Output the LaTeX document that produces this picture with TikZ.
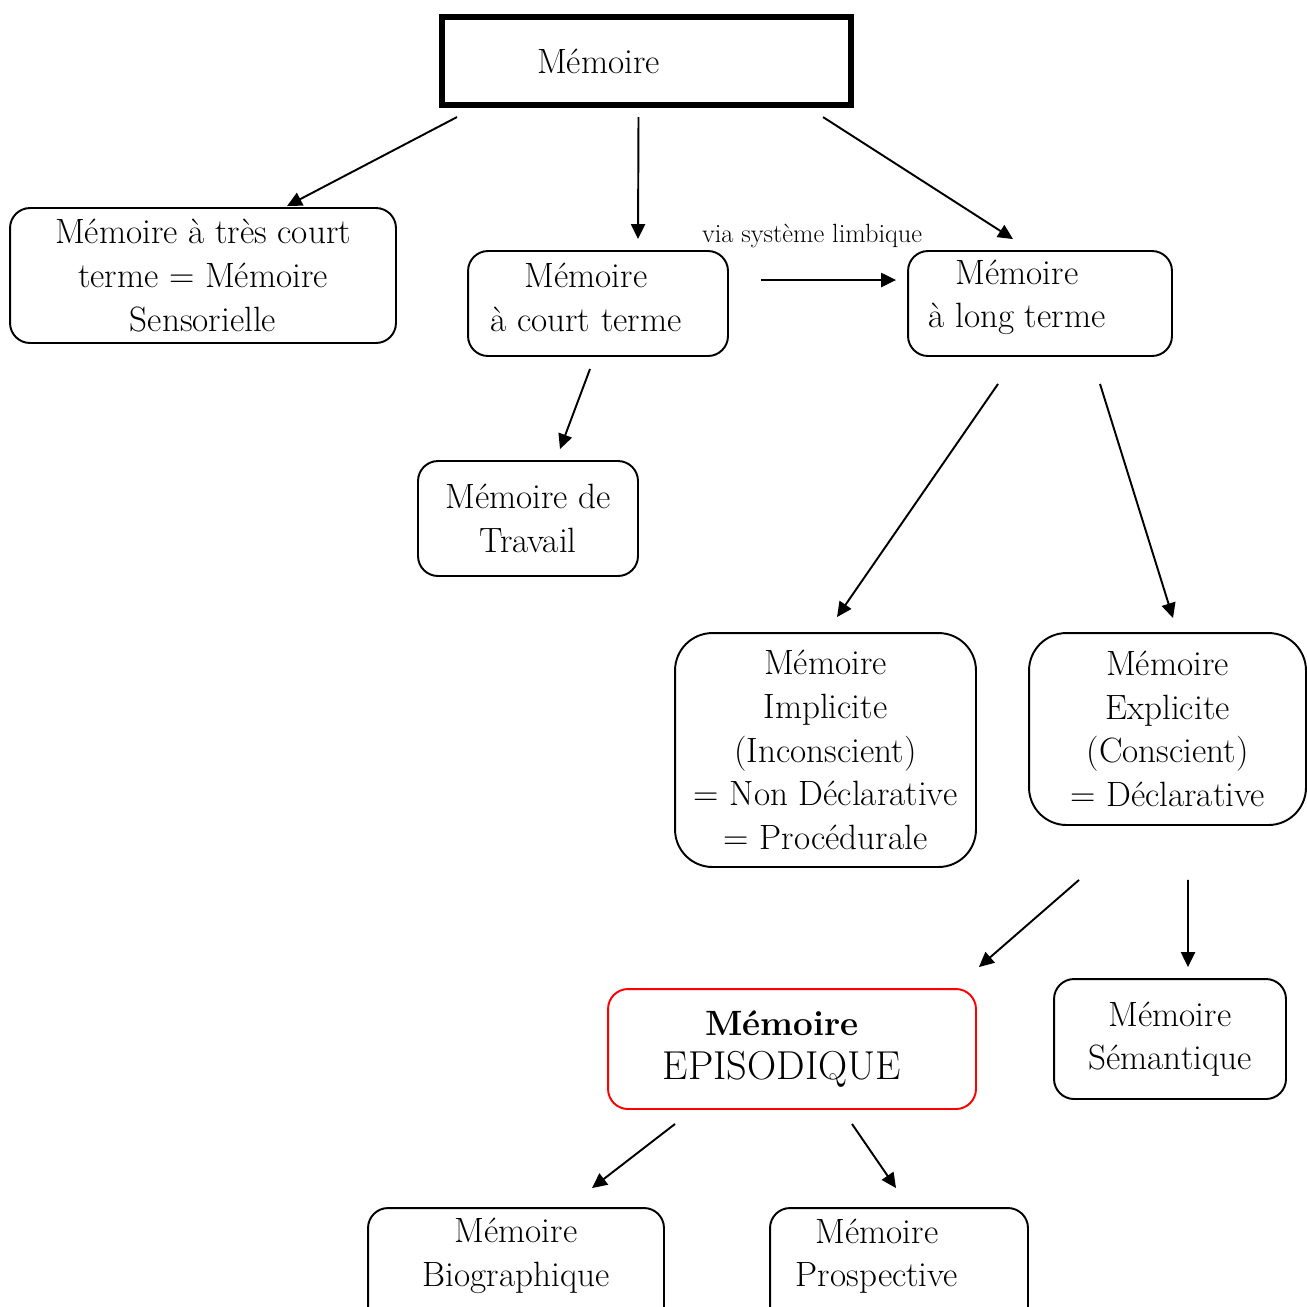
\documentclass[tikz,border=0pt]{standalone}
\usepackage{tikz}
\usetikzlibrary{arrows.meta, calc}

\begin{document}
\begin{tikzpicture}[x=0.02cm, y=-0.02cm,
      box/.style={rectangle, draw, rounded corners=0.4cm, line width=1.1pt, align=center, inner sep=1pt, font=\fontsize{20}{24.8}\selectfont},
      bigbox/.style={box, rounded corners=0.75cm},
      boxtext/.style={align=center, font=\fontsize{20}{24.8}\selectfont},
      link/.style={-{Triangle[length=8.5pt, width=8pt]}, line width=1.1pt}]

      \useasboundingbox (0,0) rectangle (1307,1306);

      % Boxes
      \node[rectangle, draw, line width=3.5pt, minimum width=8.18cm, minimum height=1.76cm,
            label={[boxtext, xshift=-0.96cm]center:Mémoire}] (mem) at (646.5,61) {};
      \node[box, minimum width=7.72cm, minimum height=2.7cm] (sens) at (203,275.5) {Mémoire à très court\\terme = Mémoire\\Sensorielle};
      \node[box, minimum width=5.2cm, minimum height=2.1cm,
            label={[boxtext, xshift=-0.24cm, yshift=0.12cm]center:Mémoire\\à court terme}] (court) at (598,303.5) {};
      \node[box, minimum width=5.28cm, minimum height=2.1cm,
            label={[boxtext, xshift=-0.46cm, yshift=0.12cm]center:Mémoire\\à long terme}] (long) at (1040,303.5) {};
      \node[box, minimum width=4.4cm, minimum height=2.3cm] (trav) at (528,518.5) {Mémoire de\\Travail};
      \node[bigbox, minimum width=6.02cm, minimum height=4.68cm] (impl) at (825.5,750) {Mémoire\\Implicite\\(Inconscient)\\= Non Déclarative\\= Procédurale};
      \node[bigbox, minimum width=5.54cm, minimum height=3.84cm] (expl) at (1167.5,729) {Mémoire\\Explicite\\(Conscient)\\= Déclarative};
      \node[box, draw=red, minimum width=7.36cm, minimum height=2.4cm,
            label={[boxtext, xshift=-0.2cm]center:\textbf{Mémoire}\\{\fontsize{23}{26}\selectfont EPISODIQUE}}] (epis) at (792,1049) {};
      \node[box, minimum width=4.64cm, minimum height=2.4cm] (sem) at (1170,1039) {Mémoire\\Sémantique};
      \node[box, minimum width=5.92cm, minimum height=2.8cm,
            label={[boxtext, yshift=0.44cm]center:Mémoire\\Biographique}] (bio) at (516,1278) {};
      \node[box, minimum width=5.16cm, minimum height=2.8cm,
            label={[boxtext, xshift=-0.44cm, yshift=0.44cm]center:Mémoire\\Prospective}] (pros) at (899,1278) {};

      % Arrows
      \draw[link] ($(mem.south west)+(18,9)$) -- ($(sens.north)+(84,-1)$);
      \draw[link] ($(mem.south)+(-8,9)$) -- ($(court.north)+(40,-11)$);
      \draw[link] ($(mem.south east)+(-31,9)$) -- ($(long.north)+(-27,-11)$);
      \draw[link] ($(court.east)+(32,-23.5)$) -- ($(long.west)+(-11,-23.5)$);
      \node[font=\fontsize{15}{18}\selectfont] (via) at (812,236) {via système limbique};
      \draw[link] ($(court.south)+(-8,12)$) -- ($(trav.north)+(32,-11)$);
      \draw[link] ($(long.south)+(-42,27)$) -- ($(impl.north)+(11.5,-15)$);
      \draw[link] ($(long.south)+(60,27)$) -- ($(expl.north)+(5.5,-14)$);
      \draw[link] ($(expl.south)+(-88.5,54)$) -- ($(epis.north east)+(2,-21)$);
      \draw[link] ($(expl.south)+(20.5,54)$) -- ($(sem.north)+(18,-11)$);
      \draw[link] ($(epis.south)+(-117,14)$) -- ($(bio.north)+(76,-19)$);
      \draw[link] ($(epis.south)+(60,14)$) -- ($(pros.north)+(-3,-19)$);
\end{tikzpicture}
\end{document}
